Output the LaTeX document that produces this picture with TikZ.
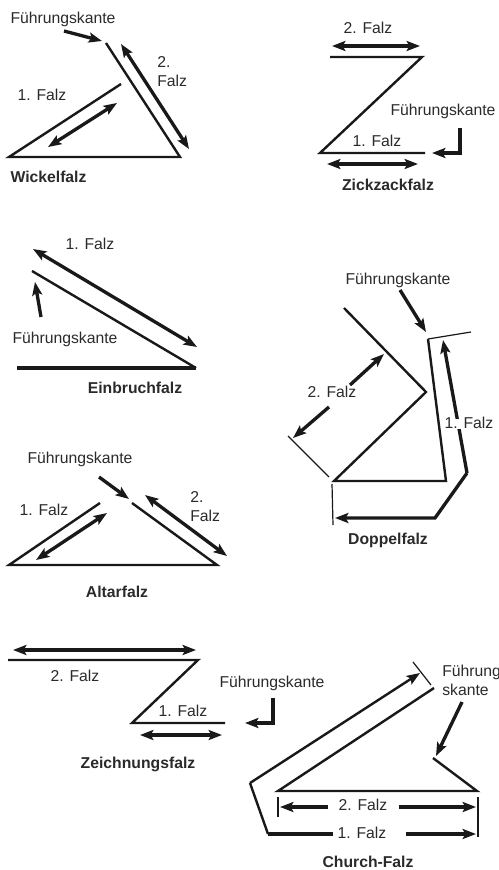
\documentclass[tikz,border=0pt]{standalone}
\usepackage{fontspec}
\setmainfont{Liberation Sans}
\usetikzlibrary{arrows.meta}
\definecolor{ink}{HTML}{1A1818}
\definecolor{txt}{HTML}{2A2A2A}
\tikzset{
  lbl/.style={inner sep=0pt,text=txt,font=\fontsize{11.8}{14}\selectfont,text height=0.72em,text depth=0.02em,yshift=-0.6pt},
  lbb/.style={lbl,font=\fontsize{11.8}{14}\selectfont\bfseries},
  twol/.style={lbl,align=left,anchor=north west,text height=,text depth=,font=\fontsize{11.8}{14.6}\selectfont},
  fold/.style={draw=ink,line width=1.8pt,line join=miter},
  heavy/.style={draw=ink,line width=2.5pt,line join=miter},
  hair/.style={draw=ink,line width=0.9pt},
  tip/.tip={Stealth[length=10pt,width=7.5pt,inset=2pt]},
  ar/.style={draw=ink,line width=2.5pt,-{tip},line join=miter},
  dar/.style={draw=ink,line width=2.5pt,{tip}-{tip}}
}
\begin{document}
\begin{tikzpicture}[x=0.75pt,y=-0.75pt]
\useasboundingbox (0,0) rectangle (499,870);
% Wickelfalz
\node[lbl] (w0) at (63,18) {Führungskante};
\node[lbl] (w1) at (42,95) {1. Falz};
\node[twol] (w2) at (157,55) {2.\\Falz};
\node[lbb] (w3) at (48.5,177) {Wickelfalz};
\draw[ar] (64,31) -- (102,41);
\draw[fold] (106,43) -- (180,157) -- (9,157) -- (121,84);
\draw[dar] (121,44) -- (189,149);
\draw[dar] (117,103) -- (48,147);
% Zickzackfalz
\node[lbl] (z0) at (368,28) {2. Falz};
\node[lbl] (z1) at (443,110) {Führungskante};
\node[lbl] (z2) at (377,141) {1. Falz};
\node[lbb] (z3) at (388,185) {Zickzackfalz};
\draw[dar] (332,46) -- (420,46);
\draw[fold] (330,57) -- (422,57) -- (320,153) -- (425,153);
\draw[ar] (460,128) -- (460,153) -- (432,153);
\draw[dar] (327,164) -- (418,164);
% Einbruchfalz
\node[lbl] (e0) at (90,244) {1. Falz};
\node[lbl] (e1) at (65,338) {Führungskante};
\node[lbb] (e2) at (135,388) {Einbruchfalz};
\draw[dar] (33,249) -- (197,347);
\draw[fold] (32,271) -- (196,368);
\draw[heavy] (196,368) -- (17,368);
\draw[ar] (41,317) -- (35,282);
% Doppelfalz
\node[lbl] (d0) at (398,279) {Führungskante};
\node[lbb] (d3) at (388,539) {Doppelfalz};
\draw[ar] (400,290) -- (426,332);
\draw[hair] (471,332) -- (428,339);
\draw[fold] (428,339) -- (446,481) -- (334,481) -- (426,392) -- (344,308);
\draw[hair] (288,436) -- (329,477);
\draw[hair] (332,484) -- (333,525);
\draw[ar] (350,385) -- (384,354);
\draw[ar] (329,407) -- (293,438);
\draw[ar] (467,473) -- (443,340);
\draw[ar] (467,473) -- (435,518) -- (335,518);
\node[lbl,fill=white,inner xsep=1pt] (d2) at (469,423) {1. Falz};
\node[lbl] (d1) at (332,392) {2. Falz};
% Altarfalz
\node[lbl] (a0) at (80,458) {Führungskante};
\node[lbl] (a1) at (44,510) {1. Falz};
\node[twol] (a2) at (190,490) {2.\\Falz};
\node[lbb] (a3) at (117,592) {Altarfalz};
\draw[ar] (99,477) -- (129,499);
\draw[fold] (100,503) -- (9,565) -- (217,565) -- (132,503);
\draw[dar] (107,513) -- (36,560);
\draw[dar] (145,495) -- (227,556);
% Zeichnungsfalz
\node[lbl] (n0) at (75,676) {2. Falz};
\node[lbl] (n1) at (183,711) {1. Falz};
\node[lbl] (n2) at (272,682) {Führungskante};
\node[lbb] (n3) at (138,763) {Zeichnungsfalz};
\draw[dar] (13,650) -- (196,650);
\draw[fold] (8,660) -- (198,660) -- (132,723) -- (225,723);
\draw[ar] (273,698) -- (273,723) -- (245,723);
\draw[dar] (140,735) -- (222,735);
% Church-Falz
\node[twol] (c0) at (442,664) {Führung\\skante};
\node[lbl] (c1) at (363,805) {2. Falz};
\node[lbl] (c2) at (362,833) {1. Falz};
\node[lbb] (c3) at (368,862.5) {Church-Falz};
\draw[hair] (413,662) -- (431,685);
\draw[fold,-{tip}] (250,783) -- (420,673);
\draw[fold] (268,834) -- (250,783);
\draw[heavy] (333,834) -- (268,834);
\draw[fold] (434,688) -- (278,791) -- (477,791) -- (433,758);
\draw[ar] (462,702) -- (436,756);
\draw[hair] (278,797) -- (278,817);
\draw[hair] (478,797) -- (478,837);
\draw[ar] (328,807) -- (280,807);
\draw[ar] (399,807) -- (476,807);
\draw[ar] (406,834) -- (476,834);
\end{tikzpicture}
\end{document}
